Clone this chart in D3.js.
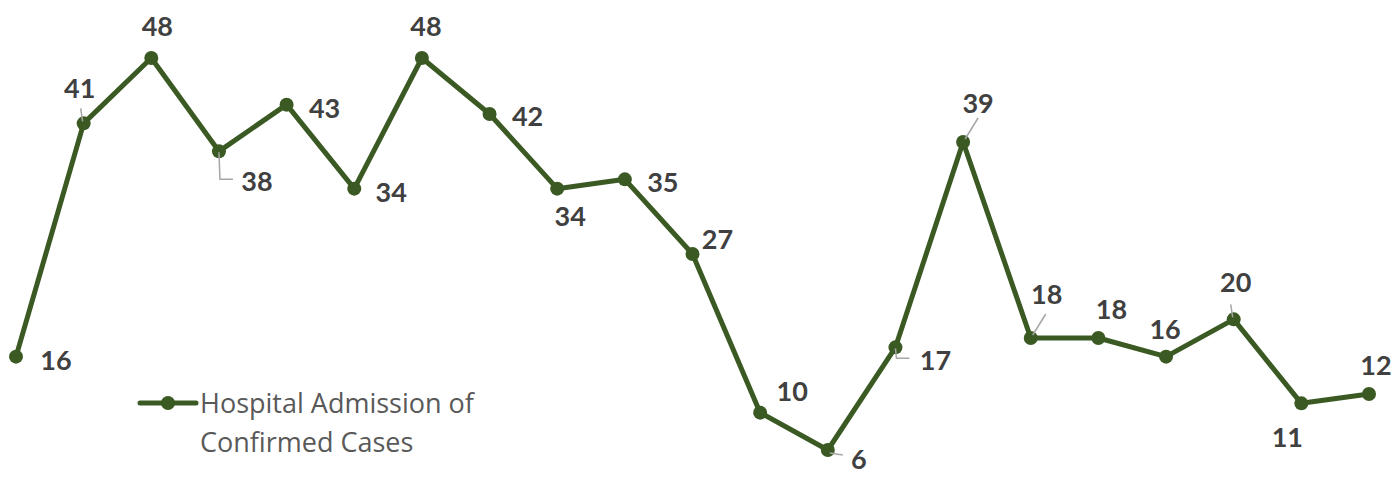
<!DOCTYPE html>
<html>
<head>
<meta charset="utf-8">
<script src="https://cdn.jsdelivr.net/npm/d3@7"></script>
<style>
  body { margin: 0; background: #fff; }
  svg { display: block; font-family: Lato, "Open Sans", sans-serif; }
</style>
</head>
<body>
<div id="chart"></div>
<script>
// values
const periods = d3.range(1, 22)
const admissions = [16, 41, 48, 38, 43, 34, 48, 42, 34, 35, 27, 10, 6, 17, 39, 18, 18, 16, 20, 11, 12]
const seriesName = ['Hospital Admission of', 'Confirmed Cases']

// label placement relative to each point: [dx, dy, leader]
const labelPos = [
  [40, 3, null], [-4, -36, 'up'], [6, -33, null], [38, 29, 'elbow'], [38, 3, null],
  [37, 3, null], [4, -33, null], [38, 1, null], [13, 27, null], [38, 2, null],
  [25, -16, null], [32, -22, null], [31, 8, 'side'], [40, 12, 'elbow'], [15, -40, 'diag'],
  [16, -45, 'diag'], [13, -30, null], [-1, -28, null], [2, -38, 'up'], [-14, 33, null],
  [7, -30, null]
]

const W = 1397, H = 481
const green = '#3b5a23'

const svg = d3.select('#chart').append('svg')
  .attr('width', W)
  .attr('height', H)

const x = d3.scalePoint().domain(periods).range([16, 1369])
const y = d3.scaleLinear().domain([6, 48]).range([450, 58])

const line = d3.line()
  .x((d, i) => x(periods[i]))
  .y(d => y(d))

svg.append('path')
  .datum(admissions)
  .attr('d', line)
  .attr('fill', 'none')
  .attr('stroke', green)
  .attr('stroke-width', 5)
  .attr('stroke-linejoin', 'round')

svg.selectAll('circle.pt')
  .data(admissions)
  .join('circle')
  .attr('class', 'pt')
  .attr('cx', (d, i) => x(periods[i]))
  .attr('cy', d => y(d))
  .attr('r', 7)
  .attr('fill', green)

// leader lines
const leaders = svg.append('g')
  .attr('fill', 'none')
  .attr('stroke', '#a6a6a6')
  .attr('stroke-width', 1.5)
admissions.forEach((d, i) => {
  const px = x(periods[i]), py = y(d)
  const [dx, dy, kind] = labelPos[i]
  if (kind === 'up') {
    leaders.append('path').attr('d', `M${px - 1},${py - 2}L${px - 3},${py - 15}`)
  } else if (kind === 'elbow') {
    leaders.append('path').attr('d', `M${px},${py + 1}L${px + 1},${py + dy - 1}L${px + 14},${py + dy - 1}`)
  } else if (kind === 'side') {
    leaders.append('path').attr('d', `M${px + 2},${py + 3}L${px + 15},${py + 5}`)
  } else if (kind === 'diag') {
    leaders.append('path').attr('d', `M${px + 2},${py - 3}L${px + 15},${py - 24}`)
  }
})

svg.selectAll('text.lbl')
  .data(admissions)
  .join('text')
  .attr('class', 'lbl')
  .attr('x', (d, i) => x(periods[i]) + labelPos[i][0])
  .attr('y', (d, i) => y(d) + labelPos[i][1])
  .attr('text-anchor', 'middle')
  .attr('dominant-baseline', 'central')
  .attr('font-size', 27)
  .attr('font-weight', 'bold')
  .attr('fill', '#404040')
  .text(d => d)

// legend
const lg = svg.append('g').attr('transform', 'translate(140,403)')
lg.append('line')
  .attr('x1', 0).attr('x2', 56)
  .attr('stroke', green).attr('stroke-width', 5).attr('stroke-linecap', 'round')
lg.append('circle').attr('cx', 28).attr('r', 7).attr('fill', green)
lg.selectAll('text')
  .data(seriesName)
  .join('text')
  .attr('x', 60)
  .attr('y', (d, i) => 10 + i * 39)
  .attr('font-family', '"Open Sans", sans-serif')
  .attr('font-size', 27)
  .attr('fill', '#595959')
  .text(d => d)
</script>
</body>
</html>
